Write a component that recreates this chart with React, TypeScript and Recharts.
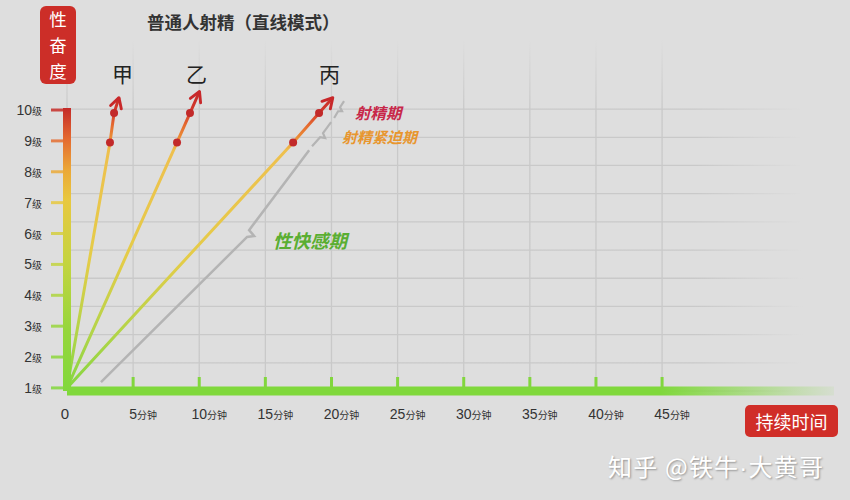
import { LineChart, Line, XAxis, YAxis, CartesianGrid } from "recharts";

const xTicks = [0, 5, 10, 15, 20, 25, 30, 35, 40, 45];
const xUnit = "分钟";
const yTicks = [1, 2, 3, 4, 5, 6, 7, 8, 9, 10];
const yUnit = "级";
// 背景网格的横线不和刻度对齐（11 条，间距略小）
const gridRows = [0, 1, 2, 3, 4, 5, 6, 7, 8, 9, 10];
const gridBase = 0.9;
const gridStep = 0.913;

// 甲 乙 丙: 起点, 射精紧迫期起点, 射精期起点, 终点(箭头)
const jiaTime = [0, 3.25, 3.56, 3.93];
const jiaLevel = [1, 8.95, 9.9, 10.4];
const yiTime = [0, 8.32, 9.3, 10.02];
const yiLevel = [1, 8.95, 9.9, 10.6];
const bingTime = [0, 17.1, 19.06, 20.1];
const bingLevel = [1, 8.95, 9.9, 10.4];

// 灰色大括号
const braceATime = [2.57, 13.62, 14.15, 13.77, 18.31];
const braceALevel = [1.19, 5.89, 5.92, 6.11, 8.7];
const braceBTime = [18.53, 19.14, 19.52, 19.36, 19.97];
const braceBLevel = [8.83, 9.12, 9.09, 9.25, 9.61];
const braceCTime = [20.2, 20.5, 20.8, 20.65, 20.95];
const braceCLevel = [9.74, 9.96, 9.96, 10.09, 10.29];

const zip = (t: number[], v: number[]) => t.map((x, i) => ({ t: x, v: v[i] }));

const jiaData = zip(jiaTime, jiaLevel);
const yiData = zip(yiTime, yiLevel);
const bingData = zip(bingTime, bingLevel);
const braceA = zip(braceATime, braceALevel);
const braceB = zip(braceBTime, braceBLevel);
const braceC = zip(braceCTime, braceCLevel);
const gridValues = gridRows.map((k) => gridBase + k * gridStep);

const CJK = '"Noto Sans CJK SC", "Noto Sans", sans-serif';
const NUM = '"Liberation Sans Narrow", "Liberation Sans", Arial, sans-serif';

const PhaseDot = (props: any) => {
  const { cx, cy, index } = props;
  if (index !== 1 && index !== 2) return <g key={`d${index}`} />;
  return <circle key={`d${index}`} cx={cx} cy={cy} r={4} fill="#c22a2a" />;
};

const YTick = (props: any) => {
  const { x, y, payload } = props;
  return (
    <text x={x} y={y + 5} textAnchor="end" fill="#333" fontFamily={NUM}>
      <tspan fontSize={14}>{payload.value}</tspan>
      <tspan fontSize={10} fontFamily={CJK}>{yUnit}</tspan>
    </text>
  );
};

const XTick = (props: any) => {
  const { x, y, payload } = props;
  const v = payload.value;
  if (v === 0) {
    return (
      <text x={x - 2} y={y + 28} textAnchor="middle" fill="#333" fontSize={15} fontFamily={NUM}>
        0
      </text>
    );
  }
  return (
    <g>
      <line x1={x} y1={y - 14} x2={x} y2={y - 3} stroke="#82d63e" strokeWidth={3} />
      <text x={x + 10} y={y + 28} textAnchor="middle" fill="#333" fontFamily={NUM}>
        <tspan fontSize={14}>{v}</tspan>
        <tspan fontSize={10} fontFamily={CJK}>{xUnit}</tspan>
      </text>
    </g>
  );
};

const abs = (s: React.CSSProperties): React.CSSProperties => ({ position: "absolute", whiteSpace: "nowrap", ...s });

export default function App() {
  return (
    <div style={{ position: "absolute", left: 0, top: 0, width: 850, height: 500, background: "#dedede", overflow: "hidden", fontFamily: CJK }}>
      <LineChart width={850} height={500} margin={{ top: 39, right: 16, bottom: 79, left: 0 }}>
        <defs>
          <linearGradient id="lineGrad" gradientUnits="userSpaceOnUse" x1="0" y1="391" x2="0" y2="90">
            <stop offset="0" stopColor="#82d640" />
            <stop offset="0.2" stopColor="#b4d448" />
            <stop offset="0.435" stopColor="#e4cc48" />
            <stop offset="0.8" stopColor="#eec04e" />
            <stop offset="0.824" stopColor="#ee9c38" />
            <stop offset="0.884" stopColor="#e56a30" />
            <stop offset="0.924" stopColor="#d43c2c" />
            <stop offset="1" stopColor="#c42828" />
          </linearGradient>
          <linearGradient id="yBar" gradientUnits="userSpaceOnUse" x1="0" y1="396" x2="0" y2="39">
            <stop offset="0" stopColor="#80d83c" />
            <stop offset="0.185" stopColor="#96d63c" />
            <stop offset="0.373" stopColor="#c4d440" />
            <stop offset="0.549" stopColor="#e8c840" />
            <stop offset="0.633" stopColor="#eba838" />
            <stop offset="0.72" stopColor="#e46a30" />
            <stop offset="0.806" stopColor="#c42a28" />
            <stop offset="0.807" stopColor="#c42a28" stopOpacity={0} />
            <stop offset="1" stopColor="#c42a28" stopOpacity={0} />
          </linearGradient>
          <linearGradient id="xBar" gradientUnits="userSpaceOnUse" x1="60" y1="0" x2="850" y2="0">
            <stop offset="0" stopColor="#80d83c" />
            <stop offset="0.76" stopColor="#80d83c" />
            <stop offset="1" stopColor="#80d83c" stopOpacity={0} />
          </linearGradient>
          <linearGradient id="hGrid" gradientUnits="userSpaceOnUse" x1="60" y1="0" x2="834" y2="0">
            <stop offset="0" stopColor="#c9c9c9" />
            <stop offset="0.82" stopColor="#c9c9c9" />
            <stop offset="0.96" stopColor="#c9c9c9" stopOpacity={0} />
          </linearGradient>
          <linearGradient id="vGrid" gradientUnits="userSpaceOnUse" x1="0" y1="391" x2="0" y2="39">
            <stop offset="0" stopColor="#c9c9c9" />
            <stop offset="0.8" stopColor="#c9c9c9" />
            <stop offset="1" stopColor="#c9c9c9" stopOpacity={0} />
          </linearGradient>
          <marker id="arrow" viewBox="0 0 12 12" refX="10" refY="6" markerWidth="15" markerHeight="15" markerUnits="userSpaceOnUse" orient="auto">
            <path d="M2,1.5 L10,6 L2,10.5" fill="none" stroke="#c8282a" strokeWidth={2.3} strokeLinecap="round" strokeLinejoin="round" />
          </marker>
        </defs>
        <CartesianGrid vertical={false} stroke="url(#hGrid)" strokeWidth={1.3} horizontalValues={gridValues} />
        <CartesianGrid horizontal={false} stroke="url(#vGrid)" strokeWidth={1.3} verticalValues={xTicks} />
        <XAxis
          dataKey="t"
          type="number"
          domain={[0, 58]}
          ticks={xTicks}
          interval={0}
          height={30}
          tickSize={0}
          tickMargin={0}
          tickLine={false}
          axisLine={{ stroke: "url(#xBar)", strokeWidth: 9 }}
          tick={<XTick />}
          allowDuplicatedCategory={false}
        />
        <YAxis
          dataKey="v"
          type="number"
          domain={[0.9, 12.3]}
          ticks={yTicks}
          interval={0}
          width={67}
          tickSize={16}
          tickMargin={9}
          tickLine={{ stroke: "url(#yBar)", strokeWidth: 3, strokeOpacity: 0.85 }}
          axisLine={{ stroke: "url(#yBar)", strokeWidth: 8 }}
          tick={<YTick />}
        />
        <Line data={braceA} dataKey="v" type="linear" stroke="#b4b4b4" strokeWidth={2.5} dot={false} isAnimationActive={false} />
        <Line data={braceB} dataKey="v" type="linear" stroke="#b4b4b4" strokeWidth={2.2} dot={false} isAnimationActive={false} />
        <Line data={braceC} dataKey="v" type="linear" stroke="#b4b4b4" strokeWidth={2.2} dot={false} isAnimationActive={false} />
        <Line data={jiaData} dataKey="v" type="linear" stroke="url(#lineGrad)" strokeWidth={3} dot={<PhaseDot />} markerEnd="url(#arrow)" isAnimationActive={false} />
        <Line data={yiData} dataKey="v" type="linear" stroke="url(#lineGrad)" strokeWidth={3} dot={<PhaseDot />} markerEnd="url(#arrow)" isAnimationActive={false} />
        <Line data={bingData} dataKey="v" type="linear" stroke="url(#lineGrad)" strokeWidth={3} dot={<PhaseDot />} markerEnd="url(#arrow)" isAnimationActive={false} />
      </LineChart>

      <div style={abs({ left: 40, top: 6, width: 36, height: 78, background: "#cc2e28", borderRadius: 6, color: "#fff", textAlign: "center" })}>
        <div style={{ fontSize: 17.5, lineHeight: "26px" }}>性</div>
        <div style={{ fontSize: 17.5, lineHeight: "26px" }}>奋</div>
        <div style={{ fontSize: 17.5, lineHeight: "26px" }}>度</div>
      </div>
      <div style={abs({ left: 147, top: 9, fontSize: 17.5, fontWeight: 700, color: "#333", lineHeight: "26px" })}>普通人射精（直线模式）</div>
      <div style={abs({ left: 112, top: 60, fontSize: 21, color: "#222", lineHeight: "26px" })}>甲</div>
      <div style={abs({ left: 186, top: 60, fontSize: 21, color: "#222", lineHeight: "26px" })}>乙</div>
      <div style={abs({ left: 319, top: 60, fontSize: 21, color: "#222", lineHeight: "26px" })}>丙</div>
      <div style={abs({ left: 355, top: 101, fontSize: 15.5, fontWeight: 700, fontStyle: "italic", color: "#c8284a", lineHeight: "22px" })}>射精期</div>
      <div style={abs({ left: 342, top: 126, fontSize: 15, fontWeight: 700, fontStyle: "italic", color: "#e8962e", lineHeight: "22px" })}>射精紧迫期</div>
      <div style={abs({ left: 273, top: 227, fontSize: 18.5, fontWeight: 700, fontStyle: "italic", color: "#5aae32", lineHeight: "26px" })}>性快感期</div>
      <div style={abs({ left: 745, top: 405, width: 93, height: 32, background: "#d02e28", borderRadius: 5, color: "#fff", fontSize: 18, lineHeight: "32px", textAlign: "center" })}>持续时间</div>
      <div style={abs({ left: 608, top: 450, fontSize: 24, letterSpacing: 1.2, color: "#fff", lineHeight: "32px", textShadow: "1px 1px 2px rgba(0,0,0,0.35)" })}>
        知乎 @铁牛<span style={{ fontFamily: '"Liberation Sans", Arial, sans-serif' }}>·</span>大黄哥
      </div>
    </div>
  );
}
